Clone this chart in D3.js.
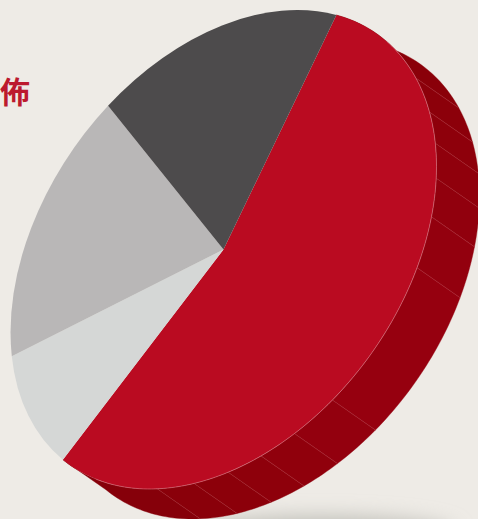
<!DOCTYPE html>
<html>
<head>
<meta charset="utf-8">
<script src="https://cdn.jsdelivr.net/npm/d3@7/dist/d3.min.js"></script>
<style>
  html, body { margin: 0; padding: 0; background: #eeebe6; overflow: hidden; }
  svg { display: block; }
</style>
</head>
<body>
<svg id="chart" width="478" height="519"></svg>
<script>
// Share of each slice, clockwise from the start of the red slice (percent)
const sliceShares = [54.7, 9.7, 17.6, 18.0];
const sliceColors = ["#ba0b21", "#d5d7d6", "#b9b7b7", "#4d4b4c"];

// Sweep of each panel along the red slice's side wall (degrees)
const wallSweeps = [32.6, 10.7, 8.7, 9.0, 9.5, 12.2, 34.6, 11.3, 9.3, 8.9, 9.2, 10.2, 30.8];
const wallColors = ["#8a0009", "#8c000a", "#8e000b", "#90000c", "#91000d", "#93000e", "#96000f",
                    "#93000e", "#90000c", "#8e000b", "#8c000a", "#8a000a", "#86000a"];

const titleText = "佈";

const width = 478, height = 519;
const svg = d3.select("#chart");

// Oblique projection of the unit disc onto the page
const center = { x: 223.5, y: 249.5 };
const tilt = { ux: 213, uy: -83.1, vy: 224.6 };
const depth = { x: 43, y: 30 };
const startAngle = 32 * Math.PI / 180;

const project = (angle, offset) => {
  const u = Math.sin(angle), v = -Math.cos(angle);
  return [
    center.x + tilt.ux * u + (offset ? depth.x : 0),
    center.y + tilt.uy * u + tilt.vy * v + (offset ? depth.y : 0)
  ];
};

const pie = d3.pie().sort(null).value(d => d).startAngle(startAngle).endAngle(startAngle + 2 * Math.PI);
const slices = pie(sliceShares);
const red = slices[0];

// Soft floor shadow under the lower wall
const defs = svg.append("defs");
defs.append("filter").attr("id", "floor-blur")
  .attr("x", "-40%").attr("y", "-150%").attr("width", "180%").attr("height", "400%")
  .append("feGaussianBlur").attr("stdDeviation", 10);
svg.append("ellipse")
  .attr("cx", 320).attr("cy", 534).attr("rx", 135).attr("ry", 17)
  .attr("fill", "#bcbcb5").attr("filter", "url(#floor-blur)");

// Side wall: one panel per sweep, spanning the red slice only
const wallPie = d3.pie().sort(null).value(d => d).startAngle(red.startAngle).endAngle(red.endAngle);
const panels = wallPie(wallSweeps);
const toPath = d3.line();
const arcSamples = p => {
  const n = Math.max(2, Math.ceil((p.endAngle - p.startAngle) / 0.02));
  return d3.range(n + 1).map(i => p.startAngle + (p.endAngle - p.startAngle) * i / n);
};

const wall = svg.append("g");
wall.selectAll("path").data(panels).join("path")
  .attr("d", p => {
    const s = arcSamples(p);
    return toPath([...s.map(a => project(a, false)), ...s.slice().reverse().map(a => project(a, true))]) + "Z";
  })
  .attr("fill", (p, i) => wallColors[i])
  .attr("stroke", (p, i) => wallColors[i])
  .attr("stroke-width", 0.4);

// Hairline seams between the panels
wall.selectAll("line").data(panels.slice(1)).join("line")
  .attr("x1", p => project(p.startAngle, false)[0])
  .attr("y1", p => project(p.startAngle, false)[1])
  .attr("x2", p => project(p.startAngle, true)[0])
  .attr("y2", p => project(p.startAngle, true)[1])
  .attr("stroke", "#c4505f")
  .attr("stroke-width", 0.5)
  .attr("stroke-opacity", 0.6);

// Top face of the pie
const arc = d3.arc().innerRadius(0).outerRadius(1);
const face = svg.append("g")
  .attr("transform", `matrix(${tilt.ux},${tilt.uy},0,${tilt.vy},${center.x},${center.y})`);
face.selectAll("path").data(slices).join("path")
  .attr("d", arc)
  .attr("fill", (d, i) => sliceColors[i]);

// Pale highlight where the red face meets its wall
const rimArc = { startAngle: 50 * Math.PI / 180, endAngle: red.endAngle - 12 * Math.PI / 180 };
svg.append("path")
  .attr("d", toPath(arcSamples(rimArc).map(a => project(a, false))))
  .attr("fill", "none")
  .attr("stroke", "#dc7f8c")
  .attr("stroke-width", 0.7)
  .attr("stroke-opacity", 0.8);

// Tail of the heading
svg.append("text")
  .attr("x", 30).attr("y", 103)
  .attr("text-anchor", "end")
  .attr("font-family", "'Noto Sans CJK TC', sans-serif")
  .attr("font-weight", 700)
  .attr("font-size", 30)
  .attr("fill", "#bc1a2e")
  .text(titleText);
</script>
</body>
</html>
